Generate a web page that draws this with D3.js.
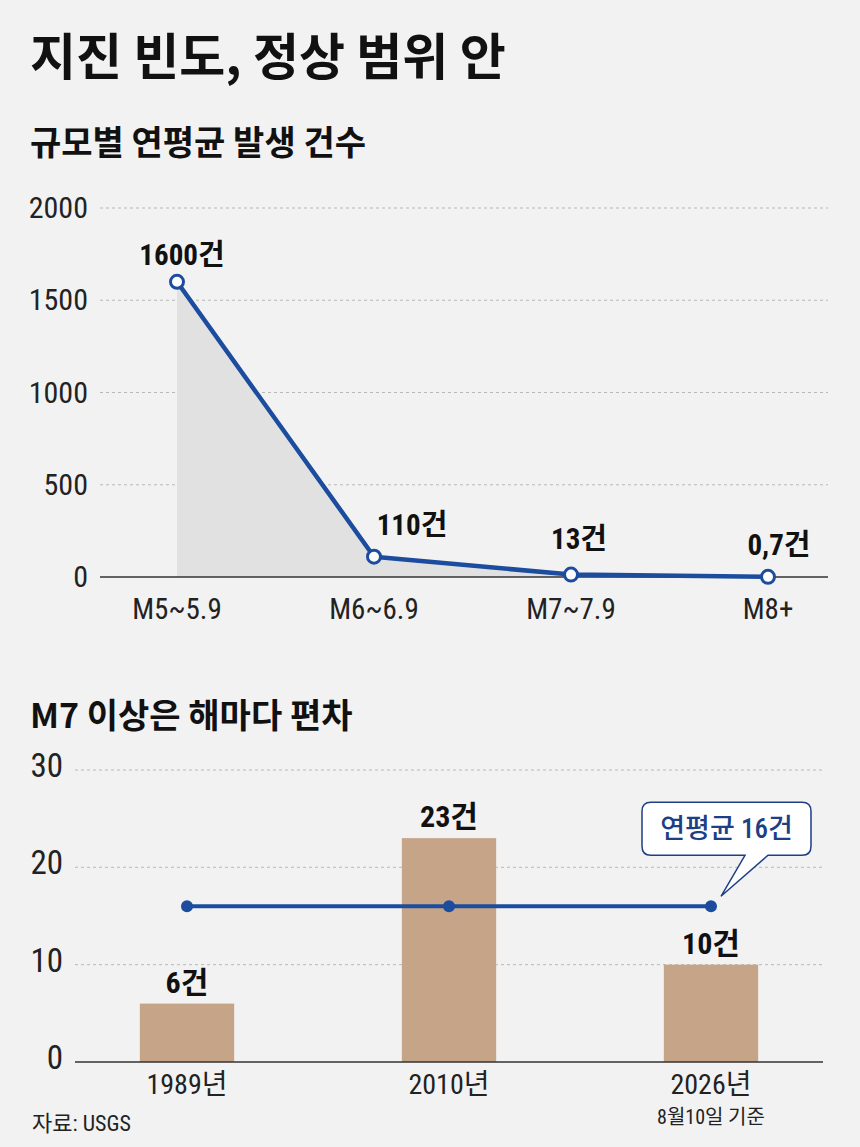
<!DOCTYPE html>
<html>
<head>
<meta charset="utf-8">
<script src="https://cdn.jsdelivr.net/npm/d3@7"></script>
<style>
  body { margin: 0; background: #f2f2f2; }
  svg { display: block; }
  .kr { font-family: "Noto Sans CJK KR", sans-serif; }
  .num { font-family: "Liberation Sans Narrow", "Roboto Condensed", "DejaVu Sans Condensed", "Noto Sans CJK KR", sans-serif; }
</style>
</head>
<body>
<div class="chart"></div>
<script>
// Top chart: average yearly count by magnitude
const magnitudes = ['M5~5.9', 'M6~6.9', 'M7~7.9', 'M8+'];
const magCounts = [1600, 110, 13, 0.7];
const magTicks = [0, 500, 1000, 1500, 2000];

// Bottom chart: M7+ count per year
const years = ['1989년', '2010년', '2026년'];
const yearCounts = [6, 23, 10];
const yearAverage = 16;
const yearTicks = [0, 10, 20, 30];
const yearNote = '8월10일 기준';

const W = 860, H = 1147;
const blue = '#1c4c9e';

const svg = d3.select('.chart')
  .append('svg')
  .attr('width', W)
  .attr('height', H);

svg.append('rect').attr('width', W).attr('height', H).attr('fill', '#f2f2f2');

// Titles
svg.append('text')
  .attr('class', 'kr')
  .attr('x', 30).attr('y', 75)
  .attr('font-size', 50).attr('font-weight', 700)
  .attr('fill', '#111')
  .text('지진 빈도, 정상 범위 안');

svg.append('text')
  .attr('class', 'kr')
  .attr('x', 30).attr('y', 155)
  .attr('font-size', 34).attr('font-weight', 700)
  .attr('fill', '#111')
  .text('규모별 연평균 발생 건수');

svg.append('text')
  .attr('class', 'kr')
  .attr('x', 30).attr('y', 728)
  .attr('font-size', 34).attr('font-weight', 700)
  .attr('fill', '#111')
  .text('M7 이상은 해마다 편차');

// ---------- line chart ----------
const x1 = d3.scalePoint().domain(magnitudes).range([177, 768]);
const y1 = d3.scaleLinear().domain([0, 2000]).range([577, 208]);

const g1 = svg.append('g');

g1.selectAll('.grid1')
  .data(magTicks.filter(d => d > 0))
  .enter()
  .append('line')
  .attr('x1', 100).attr('x2', 828)
  .attr('y1', d => y1(d)).attr('y2', d => y1(d))
  .attr('stroke', '#b8b8b8')
  .attr('stroke-width', 1)
  .attr('stroke-dasharray', '3,3');

const yAxis1 = g1.append('g')
  .attr('transform', 'translate(88,0)')
  .call(d3.axisLeft(y1).tickValues(magTicks).tickFormat(d3.format('d')).tickSize(0).tickPadding(0));
yAxis1.select('.domain').remove();
yAxis1.selectAll('text')
  .attr('class', 'num')
  .attr('font-size', 30)
  .attr('fill', '#222');

// area under the line
const area = d3.area()
  .x((d, i) => x1(magnitudes[i]))
  .y0(y1(0))
  .y1(d => y1(d));

g1.append('path')
  .datum(magCounts)
  .attr('d', area)
  .attr('fill', '#e1e1e1');

g1.append('line')
  .attr('x1', 100).attr('x2', 828)
  .attr('y1', y1(0)).attr('y2', y1(0))
  .attr('stroke', '#333')
  .attr('stroke-width', 1.5);

const line = d3.line()
  .x((d, i) => x1(magnitudes[i]))
  .y(d => y1(d));

g1.append('path')
  .datum(magCounts)
  .attr('d', line)
  .attr('fill', 'none')
  .attr('stroke', blue)
  .attr('stroke-width', 4.5)
  .attr('stroke-linejoin', 'round');

g1.selectAll('.pt')
  .data(magCounts)
  .enter()
  .append('circle')
  .attr('cx', (d, i) => x1(magnitudes[i]))
  .attr('cy', d => y1(d))
  .attr('r', 6.5)
  .attr('fill', '#fff')
  .attr('stroke', blue)
  .attr('stroke-width', 3);

// value labels (nudged off the line)
const nudgeX = [5, 38, 8, 11];
const nudgeY = [-17, -22, -26, -22];
g1.selectAll('.val1')
  .data(magCounts)
  .enter()
  .append('text')
  .attr('class', 'num')
  .attr('x', (d, i) => x1(magnitudes[i]) + nudgeX[i])
  .attr('y', (d, i) => y1(d) + nudgeY[i])
  .attr('text-anchor', 'middle')
  .attr('font-size', 29)
  .attr('font-weight', 700)
  .attr('fill', '#111')
  .text(d => String(d).replace('.', ',') + '건');

g1.selectAll('.xlab1')
  .data(magnitudes)
  .enter()
  .append('text')
  .attr('class', 'num')
  .attr('x', d => x1(d))
  .attr('y', 619)
  .attr('text-anchor', 'middle')
  .attr('font-size', 29)
  .attr('fill', '#222')
  .text(d => d);

// ---------- bar chart ----------
const x2 = d3.scaleBand().domain(years).range([56, 842]).paddingInner(0.64).paddingOuter(0.32);
const y2 = d3.scaleLinear().domain([0, 30]).range([1062, 770]);
const cx = d => x2(d) + x2.bandwidth() / 2;

const g2 = svg.append('g');

g2.selectAll('.grid2')
  .data(yearTicks.filter(d => d > 0))
  .enter()
  .append('line')
  .attr('x1', 75).attr('x2', 823)
  .attr('y1', d => y2(d)).attr('y2', d => y2(d))
  .attr('stroke', '#b8b8b8')
  .attr('stroke-width', 1)
  .attr('stroke-dasharray', '3,3');

const yAxis2 = g2.append('g')
  .attr('transform', 'translate(63,0)')
  .call(d3.axisLeft(y2).tickValues(yearTicks).tickSize(0).tickPadding(0));
yAxis2.select('.domain').remove();
yAxis2.selectAll('text')
  .attr('class', 'num')
  .attr('font-size', 33)
  .attr('fill', '#222')
  .attr('dy', '0.2em');

g2.selectAll('.bar')
  .data(yearCounts)
  .enter()
  .append('rect')
  .attr('x', (d, i) => x2(years[i]))
  .attr('width', x2.bandwidth())
  .attr('y', d => y2(d))
  .attr('height', d => y2(0) - y2(d))
  .attr('fill', '#c6a488');

g2.append('line')
  .attr('x1', 75).attr('x2', 823)
  .attr('y1', y2(0)).attr('y2', y2(0))
  .attr('stroke', '#333')
  .attr('stroke-width', 1.5);

g2.selectAll('.val2')
  .data(yearCounts)
  .enter()
  .append('text')
  .attr('class', 'num')
  .attr('x', (d, i) => cx(years[i]))
  .attr('y', d => y2(d) - 11)
  .attr('text-anchor', 'middle')
  .attr('font-size', 30)
  .attr('font-weight', 700)
  .attr('fill', '#111')
  .text(d => d + '건');

g2.selectAll('.xlab2')
  .data(years)
  .enter()
  .append('text')
  .attr('class', 'num')
  .attr('x', d => cx(d))
  .attr('y', 1094)
  .attr('text-anchor', 'middle')
  .attr('font-size', 28)
  .attr('fill', '#222')
  .text(d => d);

g2.append('text')
  .attr('class', 'num')
  .attr('x', cx(years[2]))
  .attr('y', 1124)
  .attr('text-anchor', 'middle')
  .attr('font-size', 20)
  .attr('fill', '#222')
  .text(yearNote);

// average line
const avgY = y2(yearAverage);
g2.append('line')
  .attr('x1', cx(years[0])).attr('x2', cx(years[years.length - 1]))
  .attr('y1', avgY).attr('y2', avgY)
  .attr('stroke', blue)
  .attr('stroke-width', 4);

g2.selectAll('.avgpt')
  .data(years)
  .enter()
  .append('circle')
  .attr('cx', d => cx(d))
  .attr('cy', avgY)
  .attr('r', 6)
  .attr('fill', blue);

// callout bubble
const tipX = cx(years[2]) + 10, tipY = avgY - 10;
const bx0 = 642, bx1 = 811, by0 = avgY - 104, by1 = avgY - 51, r = 9;
const tl = 745, tr = 768;
const bubble = `M${bx0 + r},${by0} H${bx1 - r} Q${bx1},${by0} ${bx1},${by0 + r} V${by1 - r} Q${bx1},${by1} ${bx1 - r},${by1}
  H${tr} L${tipX},${tipY} L${tl},${by1} H${bx0 + r} Q${bx0},${by1} ${bx0},${by1 - r} V${by0 + r} Q${bx0},${by0} ${bx0 + r},${by0} Z`;
g2.append('path')
  .attr('d', bubble)
  .attr('fill', '#fff')
  .attr('stroke', '#1c3f85')
  .attr('stroke-width', 1.5);

g2.append('text')
  .attr('class', 'num')
  .attr('x', (bx0 + bx1) / 2)
  .attr('y', by0 + 36)
  .attr('text-anchor', 'middle')
  .attr('font-size', 27)
  .attr('font-weight', 500)
  .attr('fill', '#1c3f85')
  .text('연평균 ' + yearAverage + '건');

// source
svg.append('text')
  .attr('class', 'num')
  .attr('x', 32)
  .attr('y', 1131)
  .attr('font-size', 22)
  .attr('fill', '#222')
  .text('자료: USGS');
</script>
</body>
</html>
